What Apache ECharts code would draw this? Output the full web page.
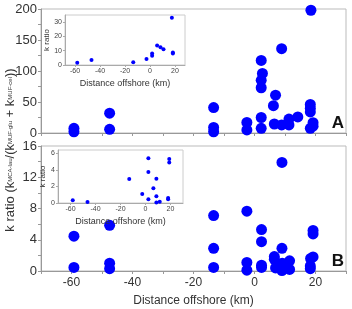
<!DOCTYPE html>
<html>
<head>
<meta charset="utf-8">
<script src="https://cdn.jsdelivr.net/npm/echarts@6/dist/echarts.min.js"></script>
<style>
  html, body { margin: 0; padding: 0; background: #fff; }
  #chart { width: 352px; height: 309px; }
</style>
</head>
<body>
<div id="chart"></div>
<script>
// main panel A: k ratio vs distance offshore
const aDist = [-59.2, -59.2, -47.5, -47.5, -13.4, -13.4, -13.4, -2.5, -2.5,
  2.2, 2.6, 2.2, 2.2, 2.2, 2.2, 6.9, 6.2, 6.5, 8.9, 8.9, 11.3, 11.3, 14.2,
  18.5, 18.3, 18.3, 18.3, 18.3, 19.2, 19.2];
const aRatio = [7.5, 2, 32, 6, 41, 9, 2, 17, 5,
  117, 96, 85, 73, 25, 7.5, 61, 44, 14.5, 136, 13, 22.5, 13, 26,
  198, 40, 34, 46, 7.5, 16.6, 11];

// main panel B
const bDist = [-59.2, -59.2, -47.5, -47.5, -47.5, -13.4, -13.4, -13.4, -2.5, -2.5, -2.5,
  2.3, 2.3, 2.3, 2.3, 6.5, 6.5, 6.9, 9, 9, 9.1, 9.1, 9,
  11.5, 11.5, 18.4, 19.2, 18.3, 18.3, 19.2, 19.2];
const bRatio = [4.45, 0.45, 5.85, 1.0, 0.3, 7.1, 2.9, 0.45, 7.65, 1.1, 0.1,
  5.3, 3.75, 0.75, 0.45, 1.85, 1.5, 0.4, 13.9, 2.9, 1.0, 0.55, 0.05,
  1.3, 0.2, 1.6, 1.8, 0.65, 0.3, 5.2, 4.75];

// insets
const insADist = [-58.2, -46.8, -13.4, -2.8, 1.7, 1.7, 5.7, 8.4, 10.8, 17.5, 18.3, 18.3];
const insARatio = [1.6, 3.5, 1.9, 4.2, 6.5, 8, 13.6, 12.5, 11, 33, 8.7, 8];
const insBDist = [-58.2, -46.4, -13, 2.3, 2.3, 2.3, -2.6, 6.3, 8.7, 8.7, 8.7, 11.4, 19, 19, 18.1, 18.1];
const insBRatio = [0.33, 0.13, 2.9, 5.4, 3.75, 0.45, 1.08, 1.78, 2.93, 0.83, 0.05, 0.15, 5.3, 4.9, 0.6, 0.45];

const distTicks = [-60, -40, -20, 0, 20];

const pairs = (xs, ys) => xs.map((x, i) => [x, ys[i]]);

const blue = '#0000ff';
const lab = '#333';
const lineCol = '#999';

var myChart = echarts.init(document.getElementById('chart'));

const mainX = (show) => ({
  type: 'value', min: -70, max: 30, interval: 10,
  splitLine: { show: false },
  axisLine: { onZero: false, lineStyle: { color: lineCol } },
  axisTick: { length: 3, lineStyle: { color: lineCol } },
  axisLabel: {
    show: show, fontSize: 12, color: lab, fontFamily: 'Liberation Sans', margin: 6,
    formatter: v => (distTicks.indexOf(v) >= 0 ? String(v) : '')
  }
});
const mainY = (max, step) => ({
  type: 'value', min: 0, max: max, interval: step,
  splitLine: { show: false },
  axisLine: { show: true, onZero: false, lineStyle: { color: lineCol } },
  axisTick: { length: 3, lineStyle: { color: lineCol } },
  minorTick: { show: true, splitNumber: 2, length: 3, lineStyle: { color: lineCol } },
  axisLabel: { fontSize: 13, color: lab, fontFamily: 'Liberation Sans', margin: 4 }
});
const insX = (min, max, gap) => ({
  type: 'value', min: min, max: max,
  splitLine: { show: false },
  axisLine: { onZero: false, lineStyle: { color: '#aaa' } },
  axisTick: { length: 2, customValues: distTicks, lineStyle: { color: '#aaa' } },
  axisLabel: { fontSize: 7, color: '#444', margin: 3, customValues: distTicks },
  name: 'Distance offshore (km)', nameLocation: 'middle', nameGap: gap,
  nameTextStyle: { fontSize: 9, color: lab, fontFamily: 'Liberation Sans' }
});
const insY = (max, step) => ({
  type: 'value', min: 0, max: max, interval: step,
  splitLine: { show: false },
  axisLine: { show: true, onZero: false, lineStyle: { color: '#aaa' } },
  axisTick: { length: 2, lineStyle: { color: '#aaa' } },
  axisLabel: { fontSize: 7, color: '#444', margin: 3, showMaxLabel: false },
  name: 'k ratio', nameLocation: 'middle', nameGap: 11,
  nameTextStyle: { fontSize: 8, color: lab, fontFamily: 'Liberation Sans' }
});

myChart.setOption({
  animation: false,
  grid: [
    { left: 41, right: 6, top: 9, height: 124, show: true, borderColor: '#bbb', borderWidth: 1 },
    { left: 41, right: 6, top: 146, height: 125, show: true, borderColor: '#bbb', borderWidth: 1 },
    { left: 65, top: 15, width: 120, height: 50, show: true, borderColor: '#ccc', borderWidth: 1, backgroundColor: '#fff', z: 5 },
    { left: 58, top: 150, width: 125, height: 53, show: true, borderColor: '#ccc', borderWidth: 1, backgroundColor: '#fff', z: 5 }
  ],
  xAxis: [
    Object.assign(mainX(false), { gridIndex: 0 }),
    Object.assign(mainX(true), { gridIndex: 1, name: 'Distance offshore (km)', nameLocation: 'middle', nameGap: 24,
      nameTextStyle: { fontSize: 12, color: lab, fontFamily: 'Liberation Sans' } }),
    Object.assign(insX(-68, 28, 14), { gridIndex: 2, z: 6 }),
    Object.assign(insX(-70, 30, 14), { gridIndex: 3, z: 6 })
  ],
  yAxis: [
    Object.assign(mainY(200, 50), { gridIndex: 0 }),
    Object.assign(mainY(16, 4), { gridIndex: 1 }),
    Object.assign(insY(35, 10), { gridIndex: 2, z: 6 }),
    Object.assign(insY(6.4, 2), { gridIndex: 3, z: 6 })
  ],
  series: [
    { type: 'scatter', xAxisIndex: 0, yAxisIndex: 0, symbolSize: 11, itemStyle: { color: blue, opacity: 1 }, data: pairs(aDist, aRatio) },
    { type: 'scatter', xAxisIndex: 1, yAxisIndex: 1, symbolSize: 11, itemStyle: { color: blue, opacity: 1 }, data: pairs(bDist, bRatio) },
    { type: 'scatter', xAxisIndex: 2, yAxisIndex: 2, symbolSize: 4, z: 7, itemStyle: { color: blue, opacity: 1 }, data: pairs(insADist, insARatio) },
    { type: 'scatter', xAxisIndex: 3, yAxisIndex: 3, symbolSize: 4, z: 7, itemStyle: { color: blue, opacity: 1 }, data: pairs(insBDist, insBRatio) }
  ],
  graphic: [
    {
      type: 'text', x: 10, y: 150, rotation: Math.PI / 2,
      style: {
        text: '{n|k ratio (k}{s|MCA-lau}{n|/(k}{s|MUF-glu}{n| + k}{s|MUF-cel}{n|))}',
        align: 'center', verticalAlign: 'middle', fill: lab,
        rich: {
          n: { fontSize: 13, fontFamily: 'Liberation Sans', fill: lab, height: 16, lineHeight: 16, verticalAlign: 'bottom' },
          s: { fontSize: 6, fontFamily: 'Liberation Sans', fill: lab, height: 16, lineHeight: 16, verticalAlign: 'bottom', padding: [5, 0, 0, 0] }
        }
      }
    },
    { type: 'text', right: 8, top: 115, style: { text: 'A', fontSize: 17, fontWeight: 'bold', fill: '#111', fontFamily: 'Liberation Sans' } },
    { type: 'text', right: 8, top: 253, style: { text: 'B', fontSize: 17, fontWeight: 'bold', fill: '#111', fontFamily: 'Liberation Sans' } }
  ]
});
</script>
</body>
</html>
